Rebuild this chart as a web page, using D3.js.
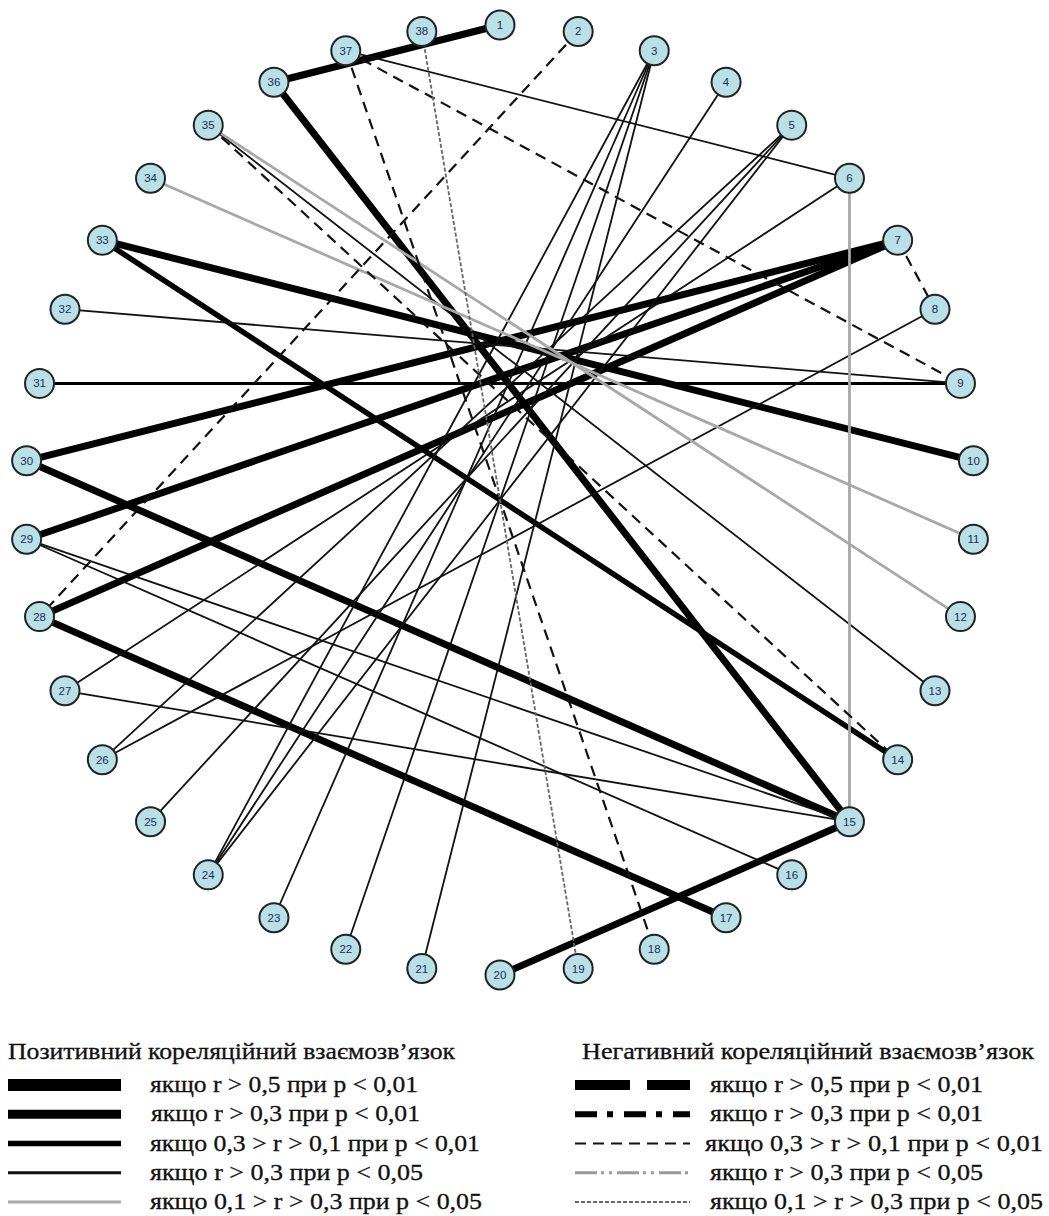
<!DOCTYPE html>
<html>
<head>
<meta charset="utf-8">
<script src="https://cdn.jsdelivr.net/npm/d3@7"></script>
<style>
  body { margin: 0; background: #fff; }
  svg { display: block; }
</style>
</head>
<body>
<svg width="1049" height="1216"></svg>
<script>
// node labels, in order round the circle (clockwise from the top)
const nodeIds = [1, 2, 3, 4, 5, 6, 7, 8, 9, 10, 11, 12, 13, 14, 15, 16, 17, 18, 19,
  20, 21, 22, 23, 24, 25, 26, 27, 28, 29, 30, 31, 32, 33, 34, 35, 36, 37, 38];

// links: [from, to, kind]
const edges = [
  [36, 1, "p1"], [30, 7, "p1"], [29, 7, "p1"], [28, 7, "p1"], [36, 15, "p1"],
  [20, 15, "p1"], [30, 15, "p1"], [28, 17, "p1"], [33, 10, "p1"],
  [33, 14, "p2"],
  [31, 9, "p3"],
  [3, 21, "p4"], [3, 22, "p4"], [3, 23, "p4"], [3, 24, "p4"], [4, 24, "p4"],
  [5, 24, "p4"], [5, 25, "p4"], [5, 26, "p4"], [8, 26, "p4"], [6, 27, "p4"],
  [27, 15, "p4"], [29, 15, "p4"], [29, 16, "p4"], [37, 6, "p4"], [35, 13, "p4"],
  [32, 9, "p4"],
  [34, 11, "p5"], [35, 12, "p5"], [6, 15, "p5"],
  [2, 28, "n3"], [37, 9, "n3"], [37, 18, "n3"], [35, 14, "n3"], [7, 8, "n3"],
  [38, 19, "n5"]
];

const posTitle = "Позитивний кореляційний взаємозв’язок";
const negTitle = "Негативний кореляційний взаємозв’язок";
const posKinds = ["p1", "p2", "p3", "p4", "p5"];
const negKinds = ["n1", "n2", "n3", "n4", "n5"];
const posLabels = [
  "якщо r > 0,5 при p < 0,01",
  "якщо r > 0,3 при p < 0,01",
  "якщо 0,3 > r > 0,1 при p < 0,01",
  "якщо r > 0,3 при p < 0,05",
  "якщо 0,1 > r > 0,3 при p < 0,05"
];
const negLabels = [
  "якщо r > 0,5 при p < 0,01",
  "якщо r > 0,3 при p < 0,01",
  "якщо 0,3 > r > 0,1  при p < 0,01",
  "якщо r > 0,3 при p < 0,05",
  "якщо 0,1 > r > 0,3 при p < 0,05"
];

// line looks in the graph (w) and in the legend (lw)
const style = {
  p1: { color: "#000", w: 7, lw: 12, dash: null },
  p2: { color: "#000", w: 5.5, lw: 9, dash: null },
  p3: { color: "#000", w: 3, lw: 5.5, dash: null },
  p4: { color: "#111", w: 1.8, lw: 3, dash: null },
  p5: { color: "#a8a8a8", w: 2.8, lw: 3, dash: null },
  n1: { color: "#000", w: 7, lw: 10, dash: "55,17" },
  n2: { color: "#000", w: 5, lw: 6, dash: "22,10,6,11" },
  n3: { color: "#111", w: 2.2, lw: 2, dash: "11,7" },
  n4: { color: "#999", w: 2.5, lw: 3, dash: "22,4,3,5,3,5" },
  n5: { color: "#666", w: 1.8, lw: 2, dash: "4,2" }
};

const svg = d3.select("svg");
const cx = 500, cy = 500, R = 475;

const angle = d3.scaleLinear()
  .domain([0, nodeIds.length])
  .range([0, 2 * Math.PI]);

const nodes = nodeIds.map((id, i) => ({
  id,
  x: cx + R * Math.sin(angle(i)),
  y: cy - R * Math.cos(angle(i))
}));
const byId = new Map(nodes.map(n => [n.id, n]));

const linkG = svg.append("g").attr("fill", "none");
linkG.selectAll("line")
  .data(edges)
  .enter().append("line")
  .attr("x1", d => byId.get(d[0]).x)
  .attr("y1", d => byId.get(d[0]).y)
  .attr("x2", d => byId.get(d[1]).x)
  .attr("y2", d => byId.get(d[1]).y)
  .attr("stroke", d => style[d[2]].color)
  .attr("stroke-width", d => style[d[2]].w)
  .attr("stroke-dasharray", d => style[d[2]].dash);

const node = svg.append("g")
  .selectAll("g")
  .data(nodes)
  .enter().append("g")
  .attr("transform", d => `translate(${d.x},${d.y})`);

node.append("circle")
  .attr("r", 14.5)
  .attr("fill", "#b8e0e6")
  .attr("stroke", "#222")
  .attr("stroke-width", 2);

node.append("text")
  .text(d => d.id)
  .attr("text-anchor", "middle")
  .attr("dy", 4)
  .attr("font-family", "Liberation Sans, Arial, sans-serif")
  .attr("font-size", 11.5)
  .attr("fill", "#1c2b55");

// legend
const rowY = d3.scalePoint().domain(d3.range(5)).range([1085, 1202]);
const font = "Liberation Serif, Times New Roman, serif";

function legend(x0, x1, tx, title, titleX, titleW, kinds, labels, widths) {
  const g = svg.append("g")
    .attr("font-family", font).attr("font-size", 23)
    .attr("fill", "#111").attr("stroke", "#111").attr("stroke-width", 0.3);
  g.append("text")
    .attr("x", titleX).attr("y", 1059)
    .attr("textLength", titleW).attr("lengthAdjust", "spacingAndGlyphs")
    .text(title);
  kinds.forEach((k, i) => {
    const s = style[k];
    g.append("line")
      .attr("x1", x0).attr("x2", x1)
      .attr("y1", rowY(i)).attr("y2", rowY(i))
      .attr("stroke", s.color)
      .attr("stroke-width", s.lw)
      .attr("stroke-dasharray", s.dash);
    g.append("text")
      .attr("x", tx[i]).attr("y", rowY(i) + 7)
      .attr("textLength", widths[i]).attr("lengthAdjust", "spacingAndGlyphs")
      .text(labels[i]);
  });
}

legend(8, 121, [150, 151, 150, 150, 150], posTitle, 8, 447, posKinds, posLabels,
  [268, 269, 330, 273, 332]);
legend(575, 690, [710, 710, 705, 710, 710], negTitle, 582, 452, negKinds, negLabels,
  [273, 273, 338, 273, 333]);
</script>
</body>
</html>
